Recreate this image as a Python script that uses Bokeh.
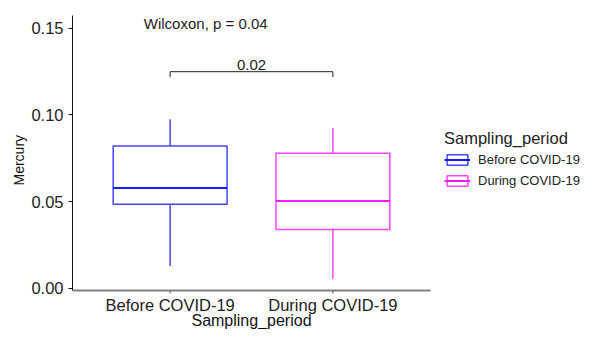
import math
from bokeh.plotting import figure
from bokeh.models import (Range1d, FixedTicker, NumeralTickFormatter, Title,
                          Legend, LegendItem)
from bokeh.core.properties import value
from bokeh.embed import file_html
from bokeh.resources import INLINE

# ---- data ----
categories = ["Before COVID-19", "During COVID-19"]
whisker_low = [0.0128, 0.0055]
q1 = [0.0485, 0.0339]
median = [0.0578, 0.0503]
q3 = [0.0820, 0.0779]
whisker_high = [0.0975, 0.0924]
box_colors = ["#4545ff", "#ff45ff"]
median_colors = ["#1a1aff", "#ff1aff"]
y_ticks = [0.0, 0.05, 0.10, 0.15]
global_p_label = "Wilcoxon, p = 0.04"
pair_p_label = "0.02"
bracket_y = 0.1249
bracket_tip = 0.1218

FONT = "Liberation Sans"

# ---- layout (pixels) ----
W, H = 581, 329
LEFT, TOP = 72, 15
AXIS_PX = 290          # where the x axis line sits
Y_LO, Y_HI = -0.00126, 0.1573
X_LO, PX_PER_X = 0.4, 162.73
per_px = (Y_HI - Y_LO) / (AXIS_PX - TOP)
y_bottom = Y_LO - (H - AXIS_PX) * per_px
x_right = X_LO + (W - LEFT) / PX_PER_X


def below(px):
    """data y that lies px pixels below the x axis line"""
    return Y_LO - px * per_px


p = figure(width=W, height=H, x_range=Range1d(X_LO, x_right),
           y_range=Range1d(y_bottom, Y_HI),
           output_backend="svg", toolbar_location=None,
           x_axis_location=None,
           min_border_left=LEFT, min_border_right=0,
           min_border_top=TOP, min_border_bottom=0)
p.outline_line_color = None
p.xgrid.visible = False
p.ygrid.visible = False

xs = [i + 1 for i in range(len(categories))]
half = 0.35

items = []
for i, cat in enumerate(categories):
    x = xs[i]
    p.segment(x0=[x], y0=[q3[i]], x1=[x], y1=[whisker_high[i]],
              line_color=box_colors[i], line_width=1.5)
    p.segment(x0=[x], y0=[whisker_low[i]], x1=[x], y1=[q1[i]],
              line_color=box_colors[i], line_width=1.5)
    b = p.quad(left=[x - half], right=[x + half], bottom=[q1[i]], top=[q3[i]],
               fill_color="white", fill_alpha=0.0,
               line_color=box_colors[i], line_width=1.5)
    m = p.segment(x0=[x - half], y0=[median[i]], x1=[x + half], y1=[median[i]],
                  line_color=median_colors[i], line_width=2)
    items.append(LegendItem(label=cat, renderers=[b, m]))

# comparison bracket
p.segment(x0=[xs[0], xs[0], xs[1]], y0=[bracket_y, bracket_y, bracket_y],
          x1=[xs[1], xs[0], xs[1]], y1=[bracket_y, bracket_tip, bracket_tip],
          line_color="#222222", line_width=1)

p.text(x=[0.838], y=[0.1526], text=[global_p_label], text_align="left",
       text_baseline="middle", text_font=value(FONT),
       text_font_size="15px", text_color="#222222")
p.text(x=[(xs[0] + xs[1]) / 2], y=[0.1285], text=[pair_p_label],
       text_align="center", text_baseline="middle",
       text_font=value(FONT), text_font_size="15px", text_color="#222222")

# ---- x axis drawn in data space ----
p.segment(x0=[X_LO], y0=[Y_LO], x1=[X_LO + 2.2], y1=[Y_LO],
          line_color="#808080", line_width=2)
p.segment(x0=xs, y0=[Y_LO] * len(xs), x1=xs, y1=[below(3)] * len(xs),
          line_color="#555555", line_width=1)
p.text(x=xs, y=[below(14.5)] * len(xs), text=categories, text_align="center",
       text_baseline="middle", text_font=value(FONT), text_font_size="16.5px",
       text_color="#222222")
p.text(x=[X_LO + 1.1], y=[below(30)], text=["Sampling_period"],
       text_align="center", text_baseline="middle", text_font=value(FONT),
       text_font_size="16px", text_color="#111111")

# ---- y axis ----
ya = p.yaxis[0]
ya.bounds = (Y_LO, Y_HI)
ya.ticker = FixedTicker(ticks=y_ticks)
ya.formatter = NumeralTickFormatter(format="0.00")
ya.axis_line_color = "#111111"
ya.axis_line_width = 1
ya.major_tick_line_color = "#111111"
ya.major_tick_out = 4
ya.major_tick_in = 0
ya.minor_tick_line_color = None
ya.major_label_standoff = 5
ya.major_label_text_font = FONT
ya.major_label_text_font_size = "16.5px"
ya.major_label_text_color = "#222222"

ytitle = Title(text="Mercury", align="left", offset=144, standoff=4,
               text_font=FONT, text_font_size="14px", text_font_style="normal",
               text_color="#111111")
p.add_layout(ytitle, "left")

legend = Legend(items=items, location=(372, 141), title="Sampling_period",
                title_text_font=FONT, title_text_font_size="16.5px",
                title_text_color="#222222", title_text_font_style="normal",
                title_standoff=4,
                label_text_font=FONT, label_text_font_size="13px",
                label_text_color="#222222",
                glyph_width=26, glyph_height=13, label_height=13,
                label_standoff=8, spacing=6, padding=0, margin=0,
                background_fill_alpha=0.0, border_line_alpha=0.0)
p.add_layout(legend)

open("out.html", "w").write(file_html(p, INLINE))
